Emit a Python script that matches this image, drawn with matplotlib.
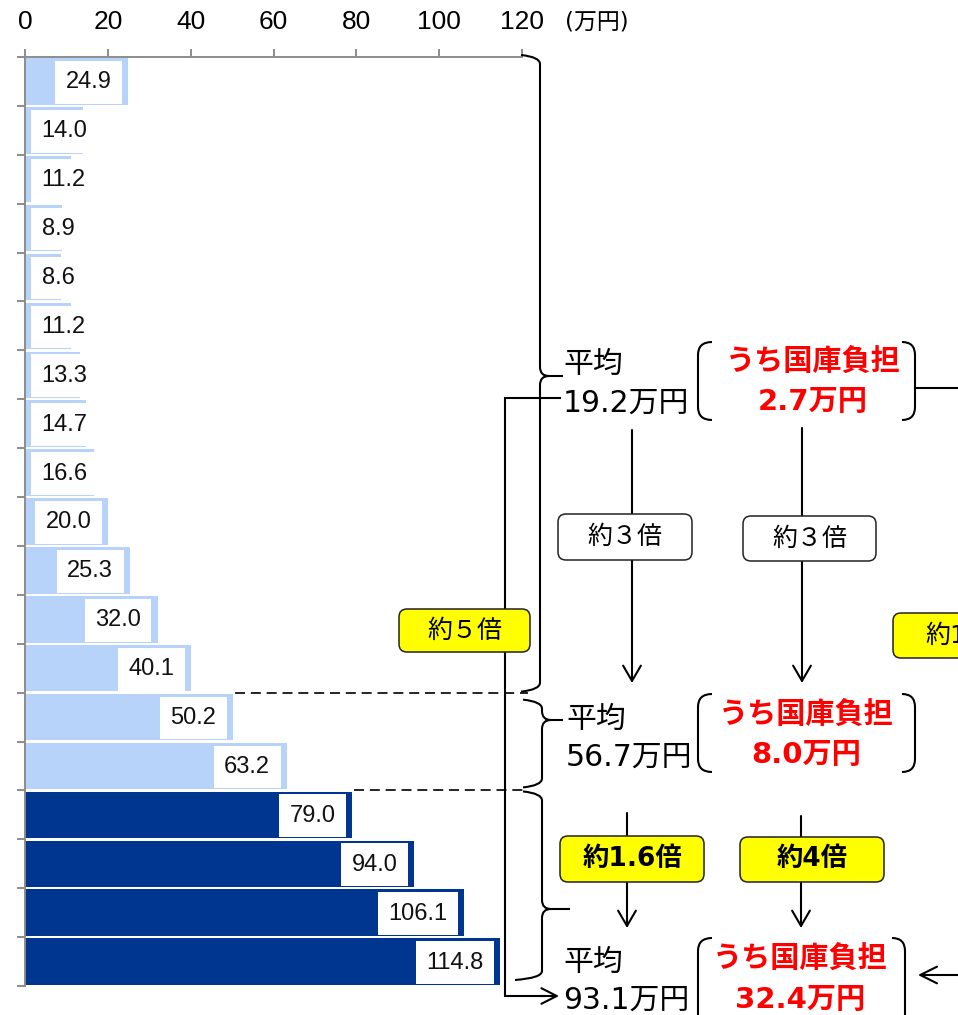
import matplotlib
matplotlib.use("Agg")
import matplotlib.pyplot as plt
from matplotlib.patches import FancyBboxPatch, PathPatch
from matplotlib.path import Path

plt.rcParams["font.family"] = ["DejaVu Sans", "Noto Sans CJK JP"]

# ---- data -------------------------------------------------------------
values = [24.9, 14.0, 11.2, 8.9, 8.6, 11.2, 13.3, 14.7, 16.6, 20.0,
          25.3, 32.0, 40.1, 50.2, 63.2, 79.0, 94.0, 106.1, 114.8]
dark_from = 15                      # bars from this index on are dark
group_edges = [0, 13, 15, 19]       # bar groups bracketed on the right
xticks = [0, 20, 40, 60, 80, 100, 120]
unit_label = "(万円)"
avg_values = [19.2, 56.7, 93.1]
subsidy_values = [2.7, 8.0, 32.4]
avg_ratio = ["約３倍", "約1.6倍"]
subsidy_ratio = ["約３倍", "約4倍"]
span_ratio = ["約５倍", "約12倍"]

LIGHT = "#B7D3FA"
DARK = "#00368F"
YELLOW = "#FFFF00"
RED = "#FF0000"
GRID_GREY = "#8C8C8C"

W, H = 958, 1015
fig = plt.figure(figsize=(W / 100, H / 100), dpi=100)

# ---- bar chart ---------------------------------------------------------
ax = fig.add_axes([25 / W, 1 - 986 / H, 497 / W, (986 - 57) / H])
n = len(values)
colors = [LIGHT if i < dark_from else DARK for i in range(n)]
ax.barh(range(n), values, height=0.95, color=colors, linewidth=0, zorder=2)
ax.set_xlim(0, 120)
ax.set_ylim(n - 0.5, -0.5)

ax.xaxis.tick_top()
ax.set_xticks(xticks)
ax.set_xticklabels([str(t) for t in xticks], family="Liberation Sans", fontsize=19)
ax.tick_params(axis="x", direction="out", length=5.8, width=1.4,
               color=GRID_GREY, pad=10.5)
ax.set_yticks([i - 0.5 for i in range(n + 1)])
ax.set_yticklabels([])
ax.tick_params(axis="y", direction="out", length=5.8, width=1.4, color=GRID_GREY)
for side in ("right", "bottom"):
    ax.spines[side].set_visible(False)
for side in ("top", "left"):
    ax.spines[side].set_color(GRID_GREY)
    ax.spines[side].set_linewidth(1.4)
ax.set_facecolor("none")

for i, v in enumerate(values):
    if v - 4 >= 15:
        x, ha = v - 4, "right"
    else:
        x, ha = 4, "left"
    ax.text(x, i + 0.02, f"{v:.1f}", ha=ha, va="center", fontsize=17,
            family="Liberation Sans", color="#111111", zorder=3,
            bbox=dict(boxstyle="square,pad=0.44", fc="white", ec="none"))

fig.text(565 / W, 1 - 22 / H, unit_label, ha="left", va="center", fontsize=16.5)

# dashed separators between bar groups
for edge in group_edges[1:-1]:
    ax.plot([values[edge] + 0.5, 121.5], [edge - 0.5, edge - 0.5],
            color="black", lw=1.2, ls=(0, (6, 3.5)), clip_on=False, zorder=4)

# ---- annotation layer in pixel units ----------------------------------
ov = fig.add_axes([0, 0, 1, 1], zorder=5)
ov.set_xlim(0, W)
ov.set_ylim(H, 0)
ov.axis("off")
ov.patch.set_alpha(0)


def boundary_px(edge):
    _, dy = ax.transData.transform((0, edge - 0.5))
    return H - dy


def draw_path(verts, codes, lw=1.5):
    ov.add_patch(PathPatch(Path(verts, codes), fc="none", ec="black",
                           lw=lw, capstyle="butt", joinstyle="round",
                           clip_on=False))


def brace(y_top, y_bot, y_tip, x_v, x_top, x_bot, x_tip, r=9):
    M, C, L = Path.MOVETO, Path.CURVE3, Path.LINETO
    verts = [(x_top, y_top), (x_v, y_top + 2), (x_v, y_top + r),
             (x_v, y_tip - r), (x_v, y_tip), (x_v + r, y_tip), (x_tip, y_tip),
             (x_v + r, y_tip), (x_v, y_tip), (x_v, y_tip + r),
             (x_v, y_bot - r), (x_v, y_bot - 2), (x_bot, y_bot)]
    codes = [M, C, C, L, C, C, L, M, C, C, L, C, C]
    draw_path(verts, codes)


def paren(x_outer, x_inner, y_top, y_bot, r=13):
    M, C, L = Path.MOVETO, Path.CURVE3, Path.LINETO
    verts = [(x_inner, y_top), (x_outer, y_top), (x_outer, y_top + r),
             (x_outer, y_bot - r), (x_outer, y_bot), (x_inner, y_bot)]
    draw_path(verts, [M, C, C, L, C, C])


def arrow(p_from, p_to, hl=0.55, hw=0.3):
    ov.annotate("", xy=p_to, xytext=p_from, annotation_clip=False,
                arrowprops=dict(arrowstyle=f"->,head_length={hl},head_width={hw}",
                                lw=1.5, color="black", mutation_scale=20,
                                shrinkA=0, shrinkB=0))


def label_box(x0, y0, x1, y1, text, fc, bold=False, fs=18, family=None):
    ov.add_patch(FancyBboxPatch((x0, y0), x1 - x0, y1 - y0,
                                boxstyle="round,pad=0,rounding_size=8",
                                fc=fc, ec="#222222", lw=1.1, zorder=6,
                                clip_on=False))
    kw = {} if family is None else {"family": family}
    ov.text((x0 + x1) / 2, (y0 + y1) / 2, text, ha="center", va="center",
            fontsize=fs, fontweight="bold" if bold else "normal",
            zorder=7, **kw)


b = [boundary_px(e) for e in group_edges]

# curly braces for the three groups
brace(b[0] - 2, b[1] - 1, 376, 540, 521, 521, 563)
brace(b[1] + 7, b[2] - 3, 720, 542, 523, 523, 563)
brace(b[2] + 1, b[3] - 6, 909, 542, 523, 515, 570)

# averages and state share per group
avg_y = [(364, 403), (719, 757), (962, 1000)]
avg_x = [563, 566, 563]
red_pos = [(813, 363, 402), (806, 716, 755), (800, 960, 1000)]
paren_spans = [(342, 420, 915, 902), (694, 772, 915, 902), (938, 1040, 905, 892)]

for k in range(3):
    ov.text(avg_x[k], avg_y[k][0], "平均", ha="left", va="center", fontsize=21.5)
    ov.text(avg_x[k], avg_y[k][1], f"{avg_values[k]:.1f}万円", ha="left",
            va="center", fontsize=21.5)
    cx, y1, y2 = red_pos[k]
    ov.text(cx, y1, "うち国庫負担", ha="center", va="center", fontsize=21,
            fontweight="bold", color=RED)
    ov.text(cx, y2, f"{subsidy_values[k]:.1f}万円", ha="center", va="center",
            fontsize=21, fontweight="bold", color=RED)
    yt, yb, xr_out, xr_in = paren_spans[k]
    paren(698, 712, yt, yb)
    paren(xr_out, xr_in, yt, yb)

# ratio arrows between groups
arrow((632, 430), (632, 683), hw=0.32)
arrow((802, 428), (802, 683), hw=0.32)
label_box(558, 514, 692, 560, avg_ratio[0], "white", family="Noto Sans CJK JP")
label_box(743, 516, 876, 561, subsidy_ratio[0], "white", family="Noto Sans CJK JP")

arrow((627, 813), (627, 928), hw=0.32)
arrow((801, 816), (801, 928), hw=0.32)
label_box(560, 836, 704, 882, avg_ratio[1], YELLOW, bold=True, fs=19)
label_box(740, 837, 884, 882, subsidy_ratio[1], YELLOW, bold=True, fs=19)

# overall span: first group average to last group average
ov.plot([560, 505, 505, 545], [398, 398, 996, 996], color="black", lw=1.5,
        solid_joinstyle="miter", clip_on=False)
arrow((540, 996), (559, 996), hl=0.55, hw=0.28)
label_box(399, 609, 530, 652, span_ratio[0], YELLOW, family="Noto Sans CJK JP")

# overall span of the state share (runs off the right edge)
ov.plot([915, 960], [388, 388], color="black", lw=1.5, clip_on=False)
arrow((962, 975), (918, 975), hl=0.6, hw=0.3)
label_box(893, 613, 1040, 658, span_ratio[1], YELLOW)

fig.savefig("out.png", dpi=100)
